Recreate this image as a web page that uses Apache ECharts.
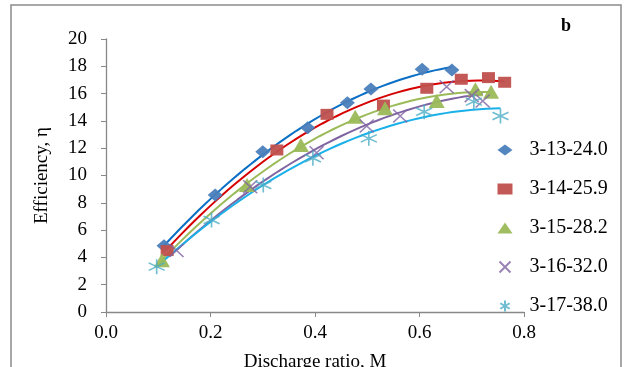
<!DOCTYPE html>
<html>
<head>
<meta charset="utf-8">
<script src="https://cdn.jsdelivr.net/npm/echarts@6/dist/echarts.min.js"></script>
<style>
  html, body { margin: 0; padding: 0; background: #fff; overflow: hidden; }
  #main { width: 625px; height: 367px; }
</style>
</head>
<body>
<div id="main"></div>
<script>
// series names
const names = ["3-13-24.0", "3-14-25.9", "3-15-28.2", "3-16-32.0", "3-17-38.0"];

// values (x = discharge ratio M, y = efficiency)
const x1 = [0.111, 0.209, 0.300, 0.386, 0.462, 0.507, 0.605, 0.662];
const y1 = [4.86, 8.57, 11.74, 13.5, 15.33, 16.34, 17.78, 17.73];
const x2 = [0.117, 0.327, 0.423, 0.531, 0.614, 0.680, 0.732, 0.763];
const y2 = [4.5, 11.87, 14.48, 15.16, 16.39, 17.05, 17.17, 16.83];
const x3 = [0.107, 0.270, 0.373, 0.477, 0.534, 0.633, 0.707, 0.737];
const y3 = [3.8, 9.3, 12.23, 14.3, 14.92, 15.46, 16.31, 16.14];
const x4 = [0.135, 0.276, 0.403, 0.499, 0.563, 0.652, 0.700, 0.721];
const y4 = [4.5, 9.18, 11.67, 13.63, 14.36, 16.5, 15.85, 15.46];
const x5 = [0.097, 0.202, 0.301, 0.396, 0.503, 0.609, 0.704, 0.755];
const y5 = [3.32, 6.74, 9.3, 11.26, 12.72, 14.67, 15.41, 14.36];

const xTicks = [0, 0.2, 0.4, 0.6, 0.8];
const yTicks = [0, 2, 4, 6, 8, 10, 12, 14, 16, 18, 20];

const allX = [x1, x2, x3, x4, x5];
const allY = [y1, y2, y3, y4, y5];

const markerColors = ["#4A7EBB", "#C0504D", "#9BBB59", "#8064A2", "#4BACC6"];
const lineColors = ["#0B6FC6", "#D60000", "#9BBB59", "#8064A2", "#1AB0EA"];

const crossPath = "path://M0,0L10,10M10,0L0,10";
const starPath = "path://M5,0L5,10M0.7,2.5L9.3,7.5M0.7,7.5L9.3,2.5";

// 2nd order polynomial trendline (least squares), like the spreadsheet trendline
const polyFit = (xs, ys) => {
  let s = [0, 0, 0, 0, 0], t = [0, 0, 0];
  xs.forEach((x, i) => {
    for (let k = 0; k < 5; k++) s[k] += Math.pow(x, k);
    for (let k = 0; k < 3; k++) t[k] += ys[i] * Math.pow(x, k);
  });
  const m = [
    [s[0], s[1], s[2], t[0]],
    [s[1], s[2], s[3], t[1]],
    [s[2], s[3], s[4], t[2]],
  ];
  for (let i = 0; i < 3; i++) {
    for (let j = i + 1; j < 3; j++) {
      const f = m[j][i] / m[i][i];
      for (let k = i; k < 4; k++) m[j][k] -= f * m[i][k];
    }
  }
  const c = [0, 0, 0];
  for (let i = 2; i >= 0; i--) {
    let v = m[i][3];
    for (let k = i + 1; k < 3; k++) v -= m[i][k] * c[k];
    c[i] = v / m[i][i];
  }
  return c;
};

const trend = (xs, ys) => {
  const c = polyFit(xs, ys);
  const lo = Math.min(...xs), hi = Math.max(...xs);
  const pts = [];
  for (let i = 0; i <= 50; i++) {
    const x = lo + (hi - lo) * i / 50;
    pts.push([x, c[0] + c[1] * x + c[2] * x * x]);
  }
  return pts;
};

const symbols = ["diamond", "rect", "triangle", crossPath, starPath];
const sizes = [[15, 13], [13, 11], [16, 14], [14, 13], [16, 15]];

const series = [];
names.forEach((n, i) => {
  series.push({
    name: n + " trend",
    type: "line",
    data: trend(allX[i], allY[i]),
    showSymbol: false,
    smooth: false,
    lineStyle: { color: lineColors[i], width: 2 },
    z: 2,
    silent: true,
  });
});
names.forEach((n, i) => {
  const stroked = i >= 3;
  series.push({
    name: n,
    type: "scatter",
    data: allX[i].map((x, k) => [x, allY[i][k]]),
    symbol: symbols[i],
    symbolSize: sizes[i],
    itemStyle: stroked
      ? { color: "none", borderColor: markerColors[i], borderWidth: 1.6 }
      : { color: markerColors[i], opacity: 0.95 },
    z: 3,
  });
});

const chart = echarts.init(document.getElementById("main"));
const font = "'Liberation Serif', 'Times New Roman', serif";

chart.setOption({
  animation: false,
  backgroundColor: "#fff",
  grid: {
    left: 106,
    right: 101,
    top: 39,
    bottom: 55,
    containLabel: false,
    outerBoundsMode: "none",
  },
  xAxis: {
    type: "value",
    min: 0,
    max: 0.8,
    interval: 0.2,
    name: "Discharge ratio, M",
    nameLocation: "middle",
    nameGap: 41,
    nameTextStyle: { fontFamily: font, fontSize: 19, color: "#000" },
    axisLine: { show: true, onZero: false, lineStyle: { color: "#888", width: 1.3 } },
    axisTick: { show: true, length: 5, lineStyle: { color: "#888" } },
    splitLine: { show: false },
    axisLabel: {
      margin: 12,
      fontFamily: font,
      fontSize: 19,
      color: "#000",
      formatter: (v) => (xTicks.some((t) => Math.abs(t - v) < 1e-9) ? v.toFixed(1) : ""),
    },
  },
  yAxis: {
    type: "value",
    min: 0,
    max: 20,
    interval: 2,
    name: "Efficiency, η",
    nameLocation: "middle",
    nameGap: 54,
    nameTextStyle: { fontFamily: font, fontSize: 19, color: "#000" },
    axisLine: { show: true, lineStyle: { color: "#888", width: 1.3 } },
    axisTick: { show: true, length: 5, lineStyle: { color: "#888" } },
    splitLine: { show: false },
    axisLabel: {
      margin: 19,
      fontFamily: font,
      fontSize: 19,
      color: "#000",
      formatter: (v) => (yTicks.includes(v) ? String(v) : ""),
    },
  },
  legend: {
    data: names,
    orient: "vertical",
    left: 492,
    top: 135,
    itemWidth: 15,
    itemHeight: 11,
    itemGap: 19,
    textStyle: {
      fontFamily: font,
      fontSize: 20,
      color: "#000",
      lineHeight: 20,
      padding: [0, 0, 0, 12],
    },
  },
  graphic: [
    {
      type: "rect",
      shape: { x: 11, y: 5, width: 610, height: 400 },
      style: { fill: "none", stroke: "#8c8c8c", lineWidth: 1.5 },
      silent: true,
    },
    {
      type: "text",
      left: 561,
      top: 17,
      style: { text: "b", font: "bold 18px " + font, fill: "#000" },
    },
  ],
  series: series,
});
</script>
</body>
</html>
